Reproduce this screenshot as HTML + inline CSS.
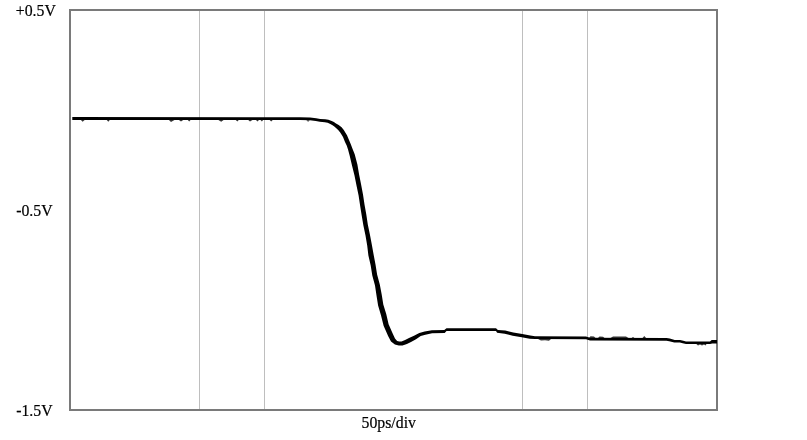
<!DOCTYPE html>
<html><head><meta charset="utf-8"><title>Falling edge, 50ps/div</title>
<style>
html,body{margin:0;padding:0;background:#fff;}
svg{display:block;}
text{font-family:"Liberation Serif",serif;font-size:15.8px;fill:#000;stroke:#000;stroke-width:.2px;}
</style></head><body>
<svg width="807" height="440" viewBox="0 0 807 440">
<rect width="807" height="440" fill="#fff"/>
<g stroke="#bebebe" stroke-width="1" shape-rendering="crispEdges"><line x1="199.5" y1="10.0" x2="199.5" y2="410.0"/><line x1="264.5" y1="10.0" x2="264.5" y2="410.0"/><line x1="522.5" y1="10.0" x2="522.5" y2="410.0"/><line x1="587.5" y1="10.0" x2="587.5" y2="410.0"/></g>
<rect x="70.0" y="10.0" width="647.00" height="400.0" fill="none" stroke="#7a7a7a" stroke-width="2"/>
<path d="M72.3,120.0 L300.0,120.0 L309.9,120.3 L315.8,121.0 L319.8,121.7 L324.8,122.3 L327.6,122.7 L330.3,123.9 L332.1,125.0 L334.0,126.2 L336.3,128.2 L338.4,130.3 L340.2,132.5 L341.8,135.1 L343.0,137.1 L345.0,141.9 L346.8,145.8 L348.1,149.7 L349.7,155.7 L352.0,165.6 L354.5,175.5 L356.5,185.5 L358.6,195.4 L360.1,205.4 L361.7,215.4 L363.4,225.4 L365.5,235.4 L367.2,245.4 L368.4,255.5 L370.7,265.4 L372.3,275.5 L375.0,285.5 L376.5,295.4 L378.1,305.6 L381.1,315.7 L383.6,325.8 L388.1,336.1 L391.0,341.4 L394.9,344.6 L398.8,345.6 L402.5,345.4 L406.9,344.0 L411.0,342.0 L416.0,339.3 L420.7,336.1 L425.4,334.8 L432.1,333.2 L444.7,332.9 L446.5,331.1 L496.0,331.1 L497.1,332.7 L504.7,333.8 L512.7,335.8 L521.7,337.3 L529.7,338.8 L535.0,339.1 L586.0,339.3 L590.0,340.6 L666.5,340.8 L669.2,341.3 L674.3,342.5 L679.9,342.4 L682.7,343.2 L686.0,343.9 L710.0,343.9 L712.3,343.6 L717.0,343.5 L717.0,339.9 L711.7,340.0 L710.0,341.5 L686.0,341.5 L683.3,340.8 L680.1,340.0 L674.7,339.9 L669.8,338.5 L666.5,338.0 L590.0,337.8 L586.0,336.5 L535.0,336.3 L530.3,335.6 L522.3,333.9 L513.3,332.6 L505.3,330.6 L497.9,329.9 L496.0,328.3 L446.5,328.3 L444.3,329.9 L431.9,330.2 L424.6,331.6 L419.3,333.1 L414.0,335.7 L409.0,338.0 L405.1,340.0 L401.5,341.4 L399.2,341.6 L397.1,341.0 L395.0,338.6 L392.9,333.9 L388.6,324.2 L386.3,314.3 L383.3,304.4 L381.7,294.6 L379.8,284.5 L377.1,274.5 L375.5,264.6 L373.6,254.5 L371.8,244.6 L369.9,234.6 L367.8,224.6 L366.3,214.6 L364.5,204.6 L363.0,194.6 L361.1,184.5 L359.1,174.5 L357.4,164.4 L354.7,154.3 L352.3,148.3 L350.8,144.2 L349.0,140.1 L347.0,135.3 L345.6,132.9 L343.8,129.9 L341.6,127.2 L338.7,125.0 L336.0,123.4 L333.9,122.0 L331.7,120.9 L328.4,119.7 L325.2,119.3 L320.2,118.9 L316.2,118.2 L310.1,117.5 L300.0,117.2 L72.3,117.1Z" fill="#000"/>
<path d="M80.7,119.7 L82.6,121.8 L85,119.7Z M106.6,119.7 L108.3,121.7 L110,119.7Z M168.7,119.7 L171,121.9 L174.9,119.7Z M178.6,119.7 L181,121.4 L183.6,119.7Z M187.6,119.7 L189.2,121.4 L190.8,119.7Z M218,119.7 L221.2,121.7 L224,119.7Z M235.5,119.7 L237.3,121.5 L239,119.7Z M247.9,119.7 L250,121.6 L252.9,119.7Z M255.7,119.7 L257.5,121.6 L259.2,119.7Z M260.3,119.7 L261.9,121.5 L263.3,119.7Z M269.4,119.7 L271.2,121.4 L273,119.7Z M306.3,120.2 L308.1,121.7 L309.9,120.2Z M538,339 L541,340.6 L545,340.2 L549,340.7 L551,339Z M589,338 L590.5,336.3 L594,336.4 L595.5,338Z M598,338 L599.5,336.6 L603,336.7 L604.5,338Z M610.5,338 L613,336.6 L626,336.5 L628.5,338Z M631.3,338.2 L633,336.9 L634.7,338.2Z M642.3,338.2 L644.3,336.1 L646.3,338.2Z M696,343.8 L698,345.5 L700,344.5 L702,345.6 L704,344.6 L705.5,345.5 L706.7,343.8Z" fill="#111" fill-opacity=".85"/>
<g style="filter:grayscale(1)"><text x="15.8" y="15.9">+0.5V</text>
<text x="16.2" y="215.7">-0.5V</text>
<text x="16.2" y="415.7">-1.5V</text>
<text x="361.5" y="427.7">50ps/div</text></g>
</svg>
</body></html>
